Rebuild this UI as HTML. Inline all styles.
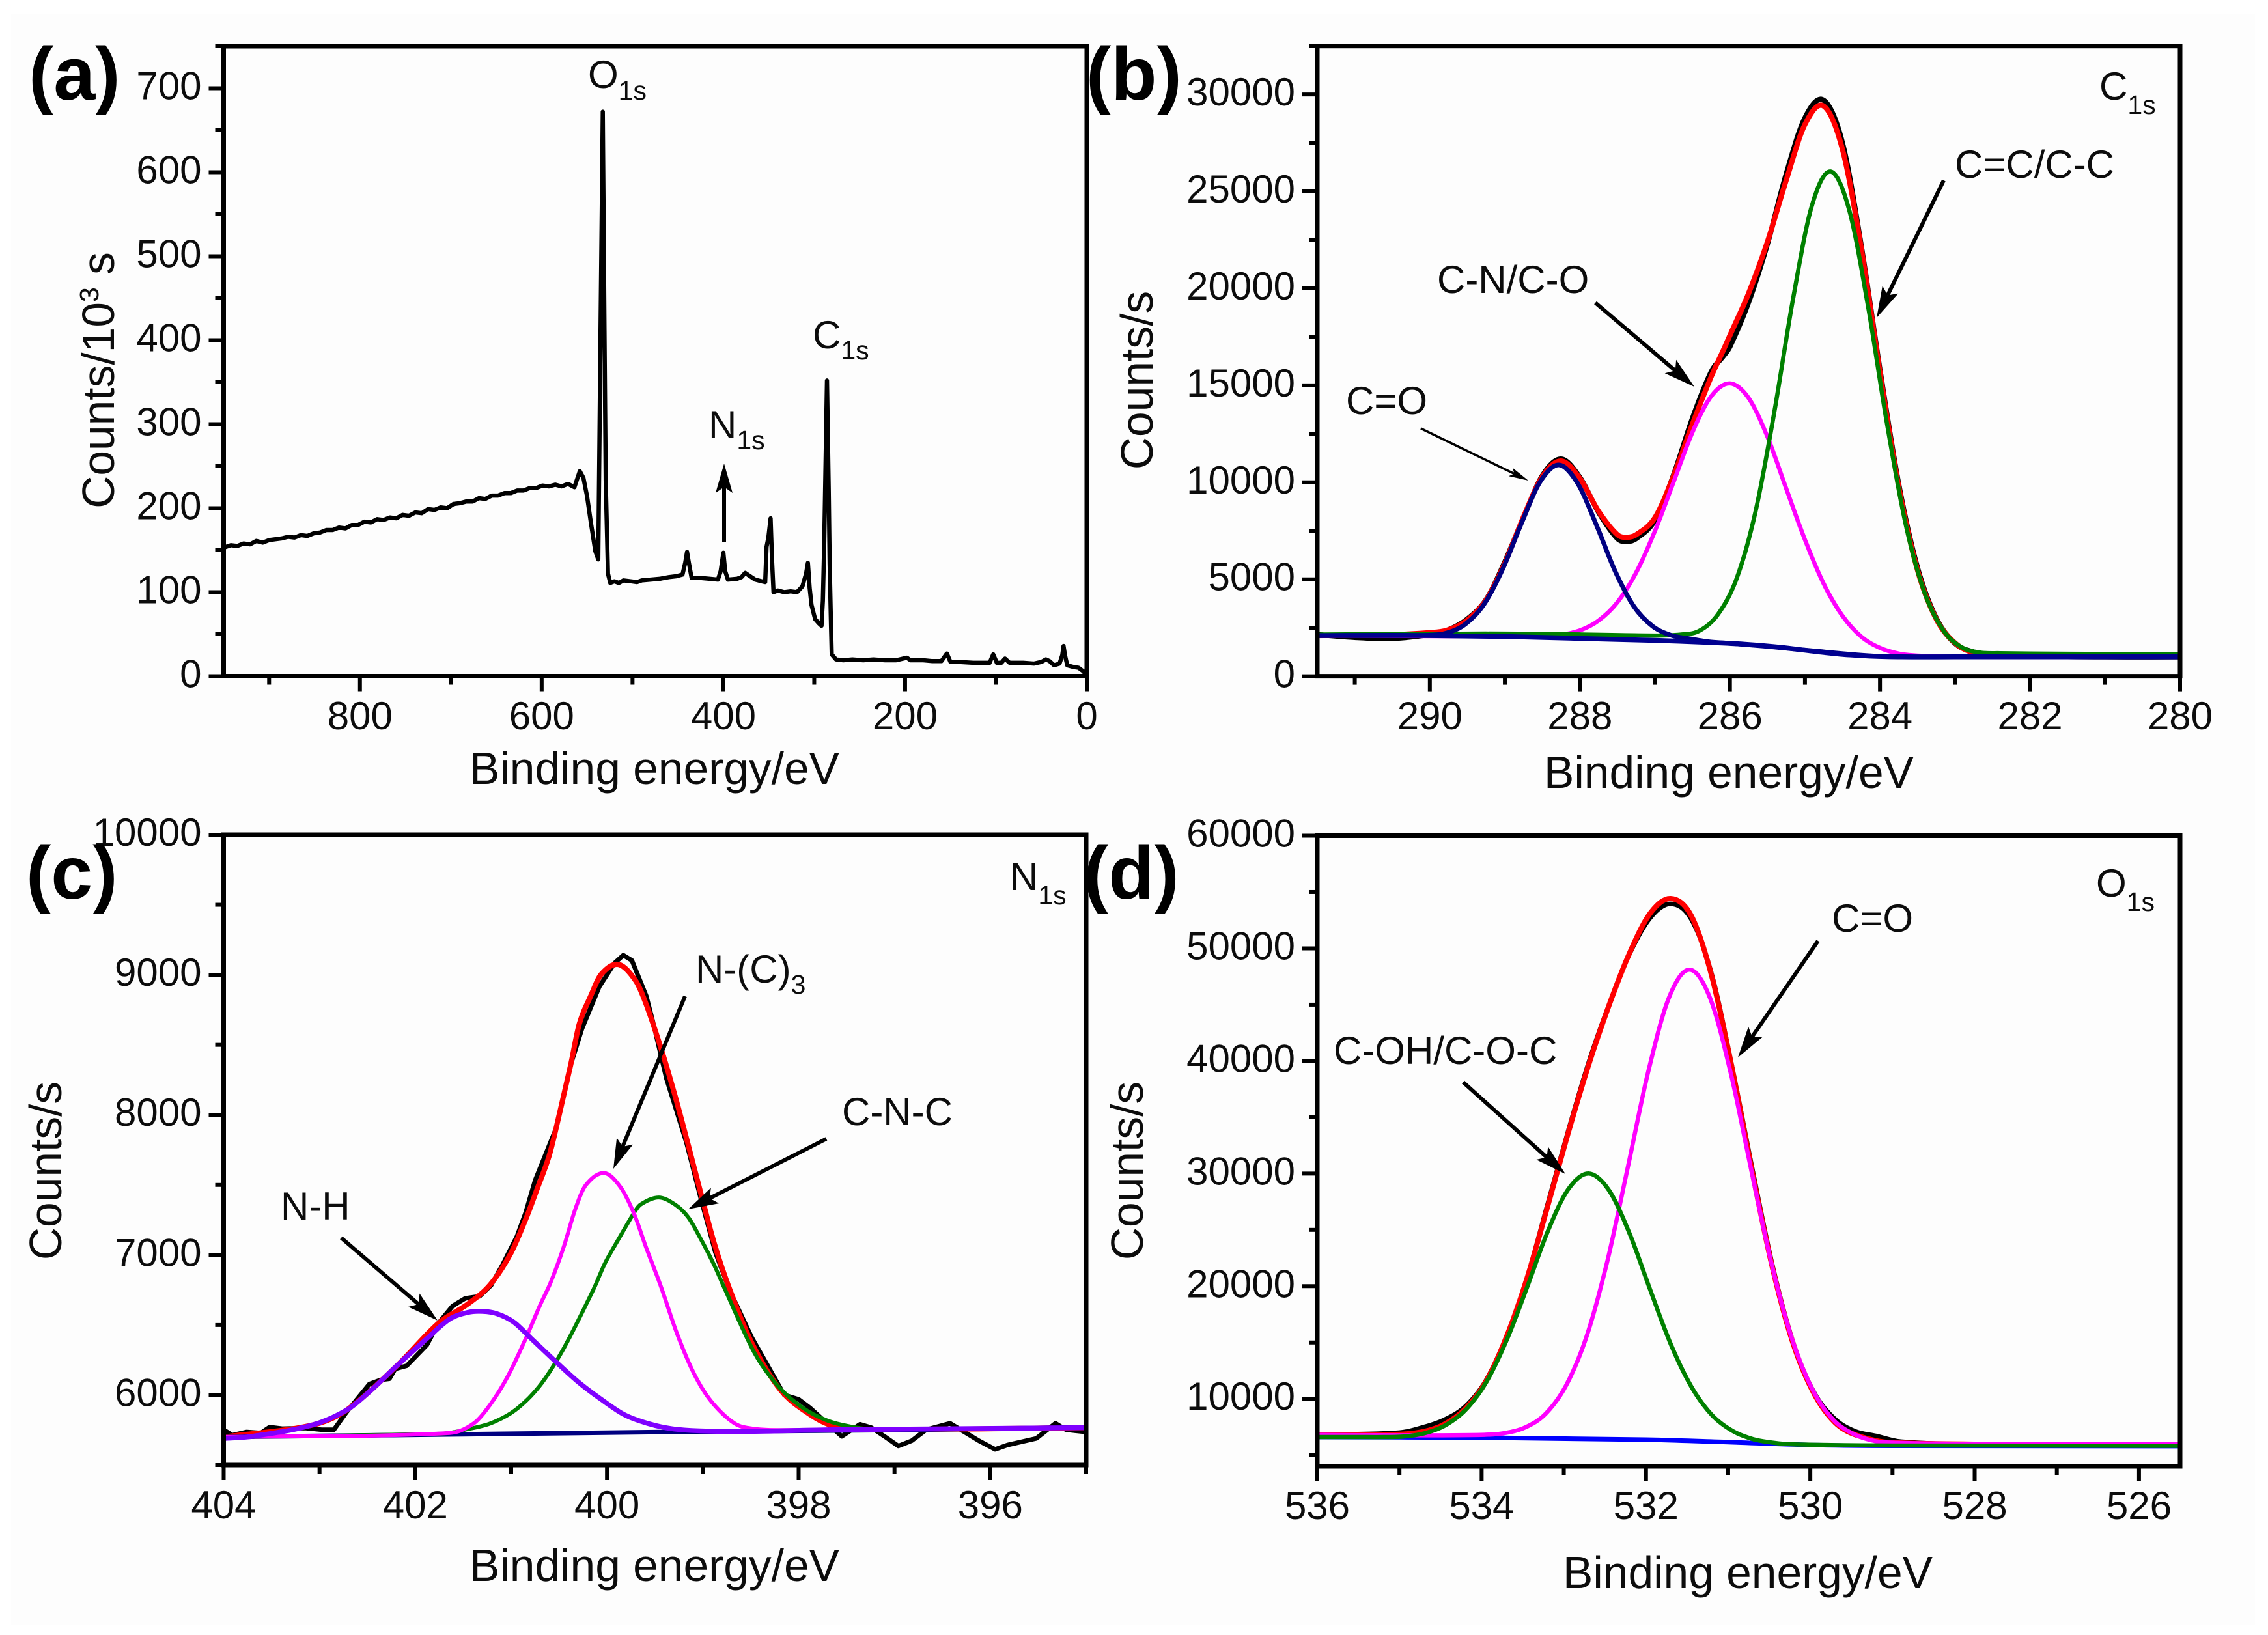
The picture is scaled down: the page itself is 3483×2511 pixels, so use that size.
<!DOCTYPE html>
<html lang="en">
<head>
<meta charset="utf-8">
<title>XPS spectra</title>
<style>
html,body{margin:0;padding:0;background:#fff}
svg{display:block}
text{font-family:"Liberation Sans",sans-serif;fill:#0c0c0c}
.tick{font-size:60px}
.title{font-size:69.5px}
.note{font-size:60px}
.sub{font-size:41px}
.panel{font-size:115px;font-weight:bold;fill:#000}
</style>
</head>
<body>
<svg id="chart" xmlns="http://www.w3.org/2000/svg" width="3483" height="2511" viewBox="0 0 3483 2511">
  <rect x="0" y="0" width="3483" height="2511" fill="#fff"/>
  <rect x="17" y="22" width="3446" height="2473" fill="#fdfdfd"/>
  <g id="marks"></g>

  <text class="panel" x="44" y="153">(a)</text>
  <text class="panel" x="1668" y="153">(b)</text>
  <text class="panel" x="40" y="1380">(c)</text>
  <text class="panel" x="1664" y="1380">(d)</text>

  <text class="title" x="1005" y="1204" text-anchor="middle">Binding energy/eV</text>
  <text class="title" x="2655" y="1210" text-anchor="middle">Binding energy/eV</text>
  <text class="title" x="1005" y="2428" text-anchor="middle">Binding energy/eV</text>
  <text class="title" x="2684" y="2439" text-anchor="middle">Binding energy/eV</text>

  <text class="title" transform="translate(175,584) rotate(-90)" text-anchor="middle">Counts/10<tspan font-size="41" dy="-24">3</tspan><tspan dy="24"> s</tspan></text>
  <text class="title" transform="translate(1770,584) rotate(-90)" text-anchor="middle">Counts/s</text>
  <text class="title" transform="translate(94,1798) rotate(-90)" text-anchor="middle">Counts/s</text>
  <text class="title" transform="translate(1755,1798) rotate(-90)" text-anchor="middle">Counts/s</text>

  <text class="note" x="903" y="135">O<tspan class="sub" dy="18">1s</tspan></text>
  <text class="note" x="1248" y="535">C<tspan class="sub" dy="17">1s</tspan></text>
  <text class="note" x="1088" y="673">N<tspan class="sub" dy="17">1s</tspan></text>

  <text class="note" x="3224" y="153">C<tspan class="sub" dy="22">1s</tspan></text>
  <text class="note" x="3002" y="273">C=C/C-C</text>
  <text class="note" x="2207" y="450">C-N/C-O</text>
  <text class="note" x="2067" y="636">C=O</text>

  <text class="note" x="1551" y="1367">N<tspan class="sub" dy="22">1s</tspan></text>
  <text class="note" x="1068" y="1509">N-(C)<tspan class="sub" dy="17">3</tspan></text>
  <text class="note" x="1293" y="1728">C-N-C</text>
  <text class="note" x="431" y="1873">N-H</text>

  <text class="note" x="3219" y="1377">O<tspan class="sub" dy="22">1s</tspan></text>
  <text class="note" x="2813" y="1431">C=O</text>
  <text class="note" x="2048" y="1634">C-OH/C-O-C</text>
</svg>
<script>
// Panel (a) survey spectrum
const surveyEnergy = [950,942,935,928,921,914,907,900,893,886,879,872,865,858,851,844,837,830,823,816,809,802,795,788,781,774,767,760,753,746,739,732,725,718,711,704,697,690,683,676,669,662,655,648,641,634,627,620,613,606,599,592,585,578,571,564,558,554,550,546,541,537.7,535,532.7,531,529.5,527,524.5,520,515,510,502,495,490,480,470,460,452,445,442,440,438,435,425,415,406,403,400,398,395,385,380,376,372,365,358,354,352.5,350.5,348,346.5,344.8,340,333,326,319,313,309,307,305,303,299,295,292,290.5,289,286,284,283,281.5,280.7,276,268,258,246,235,222,210,198,194,180,170,160,154,150,140,125,115,107,103,99,94,90,85,70,58,50,45,41,36,30,27,25.6,24,21.5,15,9,4,0];
const surveyCounts = [153,156,155,158,157,161,159,162,163,164,166,165,168,167,170,171,174,174,177,176,180,180,184,183,187,186,189,188,192,191,195,194,199,198,201,200,205,206,208,208,212,211,215,215,218,218,221,221,224,224,227,226,228,226,229,225,244,236,214,184,149,139,431,672,431,233,122,111,113,111,114,113,112,114,115,116,118,119,121,135,148,135,117,117,116,115,125,147,125,115,116,118,123,120,115,113,112,154,165,188,140,100,102,100,101,100,107,122,135,105,85,68,63,60,90,159,352,220,134,60,26,20,19,20,19,20,19,19,22,19,19,18,18,27,17,17,16,16,16,26,16,16,21,16,16,15,17,20,18,13,15,25,36,25,13,11,10,6,1];
const panelAXMajor = [800,600,400,200,0];
const panelAXMinor = [900,700,500,300,100];
const panelAYMajor = [0,100,200,300,400,500,600,700];
const panelAYMinor = [50,150,250,350,450,550,650,750];

// Panel (b) C1s
const bDataEnergy = [291.5,291,290.5,290,289.75,289.5,289.25,289,288.75,288.5,288.25,288,287.75,287.5,287.37,287.25,287,286.75,286.5,286.25,286.09,286,285.75,285.5,285.25,285,284.75,284.5,284.25,284,283.75,283.5,283.25,283,282.75,282.5,282,281,280];
const bDataCounts = [2150,2000,1950,2150,2400,2950,3950,5900,8200,10350,11200,10250,8450,7100,6950,7100,8050,10400,13300,15700,16500,17000,19300,22300,25900,28800,29700,27500,22200,15800,9900,5600,3000,1700,1250,1100,1030,1000,1000];
const bEnvelopeEnergy = [291.5,290.5,290,289.75,289.5,289.25,289,288.75,288.5,288.25,288,287.75,287.5,287.37,287.25,287,286.75,286.5,286.25,286.09,286,285.75,285.5,285.25,285,284.75,284.5,284.25,284,283.75,283.5,283.25,283,282.75,282.5,282,280];
const bEnvelopeCounts = [2100,2150,2250,2400,2900,3930,5830,8230,10300,11100,10200,8500,7300,7170,7300,8180,10350,13000,15450,16800,17580,19760,22410,25580,28460,29400,27170,22080,15670,9770,5480,2950,1720,1200,1080,1050,1050];
const bNavyEnergy = [291.5,290.5,290.03,289.78,289.53,289.28,289.03,288.78,288.53,288.28,288.03,287.78,287.53,287.28,287.03,286.78,286.53,286.28,286,285.5,285,284,283,280];
const bNavyCounts = [2100,2120,2120,2230,2680,3700,5520,7880,10030,10900,9950,7800,5420,3600,2580,2110,1930,1780,1700,1540,1350,1030,1000,1000];
const bMagentaEnergy = [291.5,289,288.5,288.25,288,287.75,287.5,287.25,287,286.75,286.5,286.25,286,285.75,285.5,285.25,285,284.75,284.5,284.25,284,283.75,283.5,283,280];
const bMagentaCounts = [2100,2050,2060,2138,2365,2876,3816,5350,7490,10030,12580,14440,15100,14340,12350,9680,7040,4770,3116,2046,1465,1168,1060,1000,1000];
const bGreenEnergy = [291.5,289,287,286.66,286.41,286.16,285.91,285.66,285.41,285.16,284.91,284.66,284.41,284.16,283.91,283.66,283.41,283.16,282.91,282.66,282.4,282,281,280];
const bGreenCounts = [2150,2200,2100,2150,2340,3192,5055,8480,13600,19440,24240,26030,24040,19090,13100,7880,4355,2390,1490,1220,1190,1170,1150,1140];
const bBaseEnergy = [291.5,290,289,288,287,286.3,285.8,285.3,284.8,284.4,283.9,283,280];
const bBaseCounts = [2100,2100,2050,1950,1850,1750,1650,1480,1250,1100,1010,1000,1000];
const panelBXMajor = [290,288,286,284,282,280];
const panelBXMinor = [291,289,287,285,283,281];
const panelBYMajor = [0,5000,10000,15000,20000,25000,30000];
const panelBYMinor = [2500,7500,12500,17500,22500,27500,32500];

// Panel (c) N1s
const cDataEnergy = [404,403.91,403.76,403.61,403.52,403.39,403.15,402.97,402.85,402.72,402.48,402.36,402.27,402.21,402.09,401.88,401.76,401.61,401.48,401.33,401.21,401.09,400.94,400.85,400.75,400.53,400.38,400.26,400.08,399.92,399.83,399.74,399.59,399.52,399.38,399.17,399.02,398.87,398.72,398.49,398.15,398,397.88,397.73,397.64,397.55,397.36,397.24,397.09,396.96,396.82,396.67,396.42,396.27,396.12,395.95,395.82,395.52,395.32,395.21,395];
const cDataCounts = [5752,5713,5736,5729,5771,5760,5764,5752,5752,5876,6078,6108,6116,6186,6209,6357,6512,6636,6690,6705,6783,6930,7132,7300,7533,7906,8355,8617,8916,9084,9140,9103,8849,8663,8260,7800,7400,7020,6748,6411,6000,5969,5907,5814,5760,5705,5791,5767,5698,5636,5674,5752,5798,5736,5674,5612,5643,5690,5798,5752,5736];
const cEnvelopeEnergy = [404,403.09,402.72,402.18,401.76,401.45,401.22,401.01,400.85,400.73,400.6,400.49,400.38,400.29,400.17,400.06,399.88,399.7,399.59,399.43,399.29,399.15,399.02,398.88,398.72,398.49,398.19,397.88,397.64,397.3,395];
const cEnvelopeCounts = [5700,5783,5891,6217,6512,6651,6787,7004,7252,7469,7717,8027,8353,8647,8849,9004,9074,8957,8787,8461,8136,7779,7438,7081,6756,6374,6037,5860,5780,5755,5767];
const cBaseEnergy = [404,401.5,399.5,397,395];
const cBaseCounts = [5700,5720,5735,5750,5770];
const cGreenEnergy = [404,401.71,401.46,401.21,400.96,400.71,400.46,400.14,400.02,399.88,399.72,399.65,399.46,399.29,399.15,399.02,398.88,398.77,398.46,398.21,397.96,397.71,397.46,397.2,395];
const cGreenCounts = [5700,5725,5755,5799,5891,6059,6323,6756,6942,7112,7298,7360,7410,7360,7267,7112,6926,6756,6300,6060,5910,5820,5775,5755,5767];
const cMagentaEnergy = [404,401.64,401.39,401.21,401.03,400.85,400.7,400.59,400.45,400.33,400.22,400.03,399.86,399.72,399.59,399.44,399.27,399.09,398.91,398.67,398.48,398.2,395];
const cMagentaCounts = [5700,5729,5798,5940,6140,6400,6640,6800,7060,7329,7500,7585,7485,7298,7050,6780,6440,6150,5953,5798,5760,5750,5767];
const cVioletEnergy = [404,403.7,403.09,402.72,402.48,402.18,401.88,401.64,401.45,401.3,401.15,400.97,400.79,400.55,400.3,400.06,399.82,399.58,399.33,399.03,398.55,397.64,395];
const cVioletCounts = [5690,5705,5783,5891,6023,6217,6403,6543,6590,6597,6581,6519,6403,6248,6093,5969,5860,5798,5760,5744,5740,5752,5767];
const panelCXMajor = [404,402,400,398,396];
const panelCXMinor = [403,401,399,397,395];
const panelCYMajor = [6000,7000,8000,9000,10000];
const panelCYMinor = [5500,6500,7500,8500,9500];

// Panel (d) O1s
const dDataEnergy = [536,535,534.7,534.45,534.2,533.95,533.7,533.45,533.2,532.95,532.7,532.45,532.2,531.95,531.7,531.45,531.2,530.95,530.7,530.45,530.2,529.95,529.7,529.45,529.2,528.9,528,525.5];
const dDataCounts = [6800,7000,7500,8150,9300,11600,15500,20700,27200,33700,39800,45000,49500,52700,53950,52600,47700,39400,30200,21500,14800,10500,8200,7100,6700,6200,5950,5900];
const dEnvelopeEnergy = [536,535,534.7,534.45,534.2,533.95,533.7,533.45,533.2,532.95,532.7,532.45,532.2,531.95,531.7,531.45,531.2,530.95,530.7,530.45,530.2,529.95,529.7,529.45,529,525.5];
const dEnvelopeCounts = [6800,6850,7100,7750,9100,11500,15450,20650,27000,33530,39600,44940,49580,53100,54420,52900,47540,39260,29900,21300,14700,10390,7900,6800,6100,5950];
const dBaseEnergy = [536,534,532,531,530,529,525.5];
const dBaseCounts = [6600,6550,6370,6150,5900,5820,5800];
const dMagentaEnergy = [536,535,533.97,533.72,533.47,533.22,532.97,532.72,532.47,532.22,531.97,531.72,531.47,531.22,530.97,530.72,530.47,530.22,529.97,529.72,529.47,529.22,528.97,528,525.5];
const dMagentaCounts = [6800,6750,6800,6955,7460,8680,11220,15600,22240,30600,39120,45630,48100,45580,38970,30350,21940,15250,10770,8130,6860,6255,6100,6000,6000];
const dGreenEnergy = [536,535.5,535.2,534.95,534.7,534.45,534.2,533.95,533.7,533.45,533.2,532.95,532.7,532.45,532.2,531.95,531.7,531.45,531.2,530.95,530.7,530.45,530.2,529,525.5];
const dGreenCounts = [6600,6600,6600,6650,6925,7610,8980,11400,15130,19850,24780,28560,30000,28510,24680,19700,14880,11100,8580,7160,6425,6100,5950,5850,5820];
const panelDXMajor = [536,534,532,530,528,526];
const panelDXMinor = [535,533,531,529,527];
const panelDYMajor = [10000,20000,30000,40000,50000,60000];
const panelDYMinor = [5000,15000,25000,35000,45000,55000];

const SVGNS = 'http://www.w3.org/2000/svg';
const root = document.getElementById('marks');

function make(tag, props, parent) {
  const el = document.createElementNS(SVGNS, tag);
  for (const k in props) el.setAttribute(k, props[k]);
  (parent || root).appendChild(el);
  return el;
}
function scaleX(f, v) { return f.left + (f.xStart - v) / (f.xStart - f.xEnd) * (f.right - f.left); }
function scaleY(f, v) { return f.bottom - (v - f.yMin) / (f.yMax - f.yMin) * (f.bottom - f.top); }

function drawAxes(f, key, xMajor, xMinor, yMajor, yMinor, xBase) {
  const g = make('g', {});
  
  
  const frame = make('rect', {x: f.left, y: f.top, width: f.right - f.left, height: f.bottom - f.top, fill: 'none', stroke: '#000', 'stroke-width': 7}, g);
  
  
  xMajor.forEach(function (v) {
    const x = scaleX(f, v);
    const t = make('line', {x1: x, x2: x, y1: f.bottom, y2: f.bottom + 23, stroke: '#000', 'stroke-width': 6}, g);
    
    
    const l = make('text', {x: x, y: xBase, 'text-anchor': 'middle', class: 'tick'}, g);
    l.textContent = String(v);
    
    
  });
  xMinor.forEach(function (v) {
    const x = scaleX(f, v);
    const t = make('line', {x1: x, x2: x, y1: f.bottom, y2: f.bottom + 13, stroke: '#000', 'stroke-width': 6}, g);
    
    
  });
  yMajor.forEach(function (v) {
    const y = scaleY(f, v);
    const t = make('line', {x1: f.left - 23, x2: f.left, y1: y, y2: y, stroke: '#000', 'stroke-width': 6}, g);
    
    
    const l = make('text', {x: f.left - 34, y: y + 17, 'text-anchor': 'end', class: 'tick'}, g);
    l.textContent = String(v);
    
    
  });
  yMinor.forEach(function (v) {
    const y = scaleY(f, v);
    const t = make('line', {x1: f.left - 13, x2: f.left, y1: y, y2: y, stroke: '#000', 'stroke-width': 6}, g);
    
    
  });
}

function straightPath(f, xs, ys) {
  return xs.map(function (v, i) { return (i ? 'L' : 'M') + scaleX(f, v).toFixed(1) + ' ' + scaleY(f, ys[i]).toFixed(1); }).join('');
}
function smoothPath(f, xs, ys) {
  const px = xs.map(function (v) { return scaleX(f, v); });
  const py = ys.map(function (v) { return scaleY(f, v); });
  const n = px.length;
  const m = px.map(function (_, i) {
    const a = Math.max(i - 1, 0), b = Math.min(i + 1, n - 1);
    return (py[b] - py[a]) / (px[b] - px[a]);
  });
  let d = 'M' + px[0].toFixed(1) + ' ' + py[0].toFixed(1);
  for (let i = 0; i < n - 1; i++) {
    const h = (px[i + 1] - px[i]) / 3;
    d += 'C' + (px[i] + h).toFixed(1) + ' ' + (py[i] + m[i] * h).toFixed(1) + ' ' +
         (px[i + 1] - h).toFixed(1) + ' ' + (py[i + 1] - m[i + 1] * h).toFixed(1) + ' ' +
         px[i + 1].toFixed(1) + ' ' + py[i + 1].toFixed(1);
  }
  return d;
}
function drawSeries(f, name, xs, ys, color, width, smooth) {
  const p = make('path', {d: smooth ? smoothPath(f, xs, ys) : straightPath(f, xs, ys), fill: 'none', stroke: color, 'stroke-width': width, 'stroke-linejoin': 'round', 'stroke-linecap': 'butt'});
  
  
}
function drawArrow(name, x1, y1, x2, y2, shaft, headLen, headWidth) {
  const g = make('g', {});
  
  
  const len = Math.hypot(x2 - x1, y2 - y1);
  const ux = (x2 - x1) / len, uy = (y2 - y1) / len;
  const nx = -uy, ny = ux;
  const bx = x2 - ux * headLen, by = y2 - uy * headLen;
  const cx = x2 - ux * headLen * 0.8, cy = y2 - uy * headLen * 0.8;
  make('line', {x1: x1, y1: y1, x2: cx, y2: cy, stroke: '#000', 'stroke-width': shaft}, g);
  make('polygon', {points: [x2, y2, bx + nx * headWidth / 2, by + ny * headWidth / 2, cx, cy, bx - nx * headWidth / 2, by - ny * headWidth / 2].join(' '), fill: '#000'}, g);
}

const frameA = {left: 343.5, right: 1669, top: 71, bottom: 1038.5, xStart: 950, xEnd: 0, yMin: 0, yMax: 750};
const frameB = {left: 2023, right: 3348, top: 70.7, bottom: 1038.6, xStart: 291.5, xEnd: 280, yMin: 0, yMax: 32500};
const frameC = {left: 343.5, right: 1668, top: 1282, bottom: 2250, xStart: 404, xEnd: 395, yMin: 5500, yMax: 10000};
const frameD = {left: 2023, right: 3348, top: 1283.5, bottom: 2252, xStart: 536, xEnd: 525.5, yMin: 4000, yMax: 60000};

drawSeries(frameA, 'survey-spectrum', surveyEnergy, surveyCounts, '#000', 6.5, false);
drawAxes(frameA, 'a', panelAXMajor, panelAXMinor, panelAYMajor, panelAYMinor, 1120);

drawSeries(frameB, 'c1s-raw-data', bDataEnergy, bDataCounts, '#000', 8, true);
drawSeries(frameB, 'c1s-envelope', bEnvelopeEnergy, bEnvelopeCounts, '#f00', 8, true);
drawSeries(frameB, 'c1s-c-n-peak', bMagentaEnergy, bMagentaCounts, '#f0f', 6.5, true);
drawSeries(frameB, 'c1s-c-c-peak', bGreenEnergy, bGreenCounts, '#008000', 6.5, true);
drawSeries(frameB, 'c1s-c-o-peak', bNavyEnergy, bNavyCounts, '#000080', 7, true);
drawSeries(frameB, 'c1s-baseline', bBaseEnergy, bBaseCounts, '#000090', 7.5, true);
drawAxes(frameB, 'b', panelBXMajor, panelBXMinor, panelBYMajor, panelBYMinor, 1120);

drawSeries(frameC, 'n1s-raw-data', cDataEnergy, cDataCounts, '#000', 7, false);
drawSeries(frameC, 'n1s-envelope', cEnvelopeEnergy, cEnvelopeCounts, '#f00', 8, true);
drawSeries(frameC, 'n1s-baseline', cBaseEnergy, cBaseCounts, '#000080', 7, true);
drawSeries(frameC, 'n1s-c-n-c-peak', cGreenEnergy, cGreenCounts, '#008000', 6, true);
drawSeries(frameC, 'n1s-n-c3-peak', cMagentaEnergy, cMagentaCounts, '#f0f', 6, true);
drawSeries(frameC, 'n1s-n-h-peak', cVioletEnergy, cVioletCounts, '#7f00ff', 7.5, true);
drawAxes(frameC, 'c', panelCXMajor, panelCXMinor, panelCYMajor, panelCYMinor, 2332);

drawSeries(frameD, 'o1s-raw-data', dDataEnergy, dDataCounts, '#000', 7, true);
drawSeries(frameD, 'o1s-envelope', dEnvelopeEnergy, dEnvelopeCounts, '#f00', 8, true);
drawSeries(frameD, 'o1s-baseline', dBaseEnergy, dBaseCounts, '#0000ff', 7, true);
drawSeries(frameD, 'o1s-c-o-peak', dMagentaEnergy, dMagentaCounts, '#f0f', 6.5, true);
drawSeries(frameD, 'o1s-c-oh-peak', dGreenEnergy, dGreenCounts, '#008000', 6.5, true);
drawAxes(frameD, 'd', panelDXMajor, panelDXMinor, panelDYMajor, panelDYMinor, 2333);

drawArrow('n1s-survey-arrow', 1112, 833, 1112, 712, 6, 45, 26);
drawArrow('c-c-arrow', 2985, 277, 2882, 488, 6, 48, 27);
drawArrow('c-n-arrow', 2450, 465, 2602, 594, 6, 48, 27);
drawArrow('c-o-arrow-b', 2182, 658, 2347, 738, 3.5, 30, 14);
drawArrow('n-c3-arrow', 1052, 1530, 942, 1795, 6, 46, 27);
drawArrow('c-n-c-arrow', 1269, 1749, 1057, 1857, 6, 46, 27);
drawArrow('n-h-arrow', 524, 1901, 672, 2028, 6, 48, 27);
drawArrow('c-o-arrow-d', 2792, 1445, 2669, 1624, 6, 48, 27);
drawArrow('c-oh-arrow', 2247, 1662, 2404, 1803, 6, 48, 27);
</script>
</body>
</html>
